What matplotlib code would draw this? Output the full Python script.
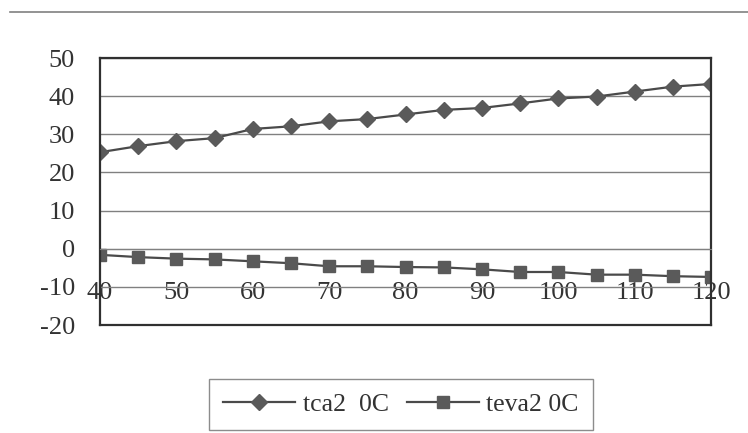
import matplotlib
matplotlib.use("Agg")
import matplotlib.pyplot as plt
from matplotlib.lines import Line2D

# data
x_vals = [40, 45, 50, 55, 60, 65, 70, 75, 80, 85, 90, 95, 100, 105, 110, 115, 120]
tca2 = [25.3, 26.9, 28.2, 29.0, 31.4, 32.1, 33.4, 34.0, 35.2, 36.4, 36.9, 38.1, 39.4, 39.9, 41.2, 42.5, 43.2]
teva2 = [-1.6, -2.2, -2.6, -2.8, -3.3, -3.8, -4.6, -4.6, -4.8, -4.9, -5.4, -6.1, -6.1, -6.8, -6.8, -7.2, -7.4]
x_ticks = [40, 50, 60, 70, 80, 90, 100, 110, 120]
y_ticks = [-20, -10, 0, 10, 20, 30, 40, 50]
labels = ["tca2  0C", "teva2 0C"]

plt.rcParams["font.family"] = ["Liberation Serif", "DejaVu Serif"]
plt.rcParams["axes.unicode_minus"] = False

fig = plt.figure(figsize=(7.48, 4.33), dpi=100)
ax = fig.add_axes([0.1337, 0.2494, 0.817, 0.6166])

line_col = "#4a4a4a"
ax.plot(x_vals, tca2, color=line_col, lw=1.6, marker="D", ms=8.5,
        mfc="#5a5a5a", mec="#5a5a5a", label=labels[0])
ax.plot(x_vals, teva2, color=line_col, lw=1.6, marker="s", ms=8,
        mfc="#5a5a5a", mec="#5a5a5a", label=labels[1])

ax.set_xlim(40, 120)
ax.set_ylim(-20, 50)
ax.set_yticks(y_ticks)
ax.set_xticks(x_ticks)
ax.yaxis.grid(True, color="#808080", lw=1.0)
ax.set_axisbelow(True)

# category axis crosses at 0, labels sit below it
ax.spines["bottom"].set_position(("data", 0))
ax.spines["bottom"].set_color("#808080")
for side in ["left", "right", "top"]:
    ax.spines[side].set_color("#303030")
    ax.spines[side].set_linewidth(1.6)
ax.tick_params(axis="x", length=0, pad=24, labelsize=19, colors="#333333")
ax.tick_params(axis="y", length=0, pad=18, labelsize=19, colors="#333333")

# lower frame line at -20
ax.axhline(-20, color="#303030", lw=1.6, clip_on=False)

leg = fig.legend(loc="center", bbox_to_anchor=(0.536, 0.0665), ncol=2,
                 fontsize=18.5, frameon=True, fancybox=False, handlelength=2.8,
                 columnspacing=0.7, handletextpad=0.3, borderpad=0.55,
                 borderaxespad=0.3, labelcolor="#333333")
leg.get_frame().set_edgecolor("#707070")
leg.get_frame().set_linewidth(1.0)

# top edge of scanned chart area
fig.add_artist(Line2D([0.013, 1.0], [0.972, 0.972], color="#808080", lw=1.2))

fig.savefig("out.png", dpi=100)
